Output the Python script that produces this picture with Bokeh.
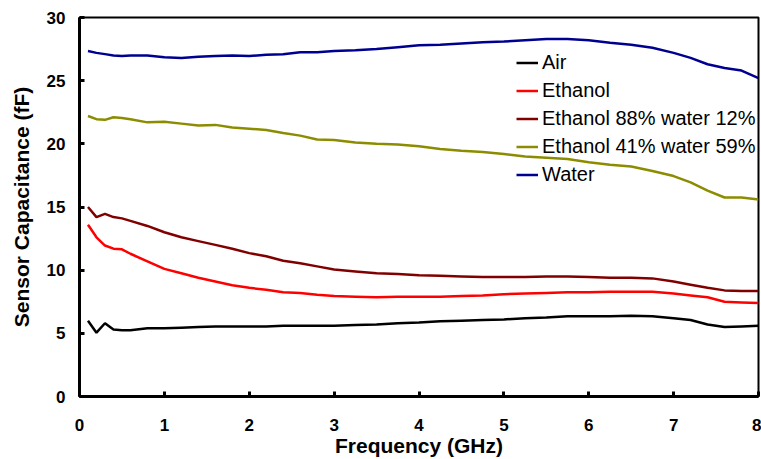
from bokeh.plotting import figure
from bokeh.models import Range1d, Legend, LegendItem, FixedTicker
from bokeh.embed import file_html
from bokeh.resources import INLINE

freq = [0.1, 0.2, 0.3, 0.4, 0.5, 0.6, 0.8, 1.0, 1.2, 1.4, 1.6, 1.8, 2.0, 2.2, 2.4, 2.6, 2.8, 3.0,
        3.25, 3.5, 3.75, 4.0, 4.25, 4.5, 4.75, 5.0, 5.25, 5.5, 5.75, 6.0, 6.25, 6.5, 6.75, 7.0,
        7.2, 7.4, 7.6, 7.8, 8.0]

air = [6.0, 5.05, 5.8, 5.3, 5.25, 5.25, 5.4, 5.4, 5.45, 5.5, 5.55, 5.55, 5.55, 5.55, 5.6, 5.6, 5.6, 5.6,
       5.65, 5.7, 5.8, 5.85, 5.95, 6.0, 6.05, 6.1, 6.2, 6.25, 6.35, 6.35, 6.35, 6.4, 6.35, 6.2,
       6.05, 5.7, 5.5, 5.55, 5.6]

ethanol = [13.6, 12.6, 11.95, 11.7, 11.65, 11.3, 10.7, 10.1, 9.75, 9.4, 9.1, 8.8, 8.6, 8.45, 8.25, 8.2, 8.05, 7.95,
           7.9, 7.85, 7.9, 7.9, 7.9, 7.95, 8.0, 8.1, 8.15, 8.2, 8.25, 8.25, 8.3, 8.3, 8.3, 8.15,
           8.0, 7.85, 7.5, 7.45, 7.4]

eth88 = [15.0, 14.2, 14.45, 14.2, 14.1, 13.9, 13.5, 13.0, 12.6, 12.3, 12.0, 11.7, 11.35, 11.1, 10.75, 10.55, 10.3, 10.05,
         9.9, 9.75, 9.7, 9.6, 9.55, 9.5, 9.45, 9.45, 9.45, 9.5, 9.5, 9.45, 9.4, 9.4, 9.35, 9.1,
         8.85, 8.6, 8.4, 8.35, 8.35]

eth41 = [22.2, 21.95, 21.9, 22.1, 22.05, 21.95, 21.7, 21.75, 21.6, 21.45, 21.5, 21.3, 21.2, 21.1, 20.85, 20.65, 20.35, 20.3,
         20.1, 20.0, 19.95, 19.8, 19.6, 19.45, 19.35, 19.2, 19.0, 18.9, 18.8, 18.55, 18.35, 18.2, 17.85, 17.45,
         16.95, 16.3, 15.75, 15.75, 15.6]

water = [27.35, 27.2, 27.1, 27.0, 26.95, 27.0, 27.0, 26.85, 26.8, 26.9, 26.95, 27.0, 26.95, 27.05, 27.1, 27.25, 27.25, 27.35,
         27.4, 27.5, 27.65, 27.8, 27.85, 27.95, 28.05, 28.1, 28.2, 28.3, 28.3, 28.2, 28.0, 27.85, 27.6, 27.2,
         26.8, 26.3, 26.0, 25.8, 25.2]

names = ["Air", "Ethanol", "Ethanol 88% water 12%", "Ethanol 41% water 59%", "Water"]
series = [air, ethanol, eth88, eth41, water]
colors = ["#000000", "#ff0000", "#800000", "#8c8c00", "#000090"]

x_ticks = [0, 1, 2, 3, 4, 5, 6, 7, 8]
y_ticks = [0, 5, 10, 15, 20, 25, 30]

p = figure(width=761, height=459, output_backend="svg", toolbar_location=None,
           x_range=Range1d(0, 8), y_range=Range1d(0, 30),
           min_border_left=79, min_border_right=3, min_border_top=17, min_border_bottom=61)

items = []
for name, ys, c in zip(names, series, colors):
    r = p.line(freq, ys, line_color=c, line_width=2.5)
    items.append(LegendItem(label=name, renderers=[r]))

p.xgrid.visible = False
p.ygrid.visible = False
p.outline_line_color = "black"
p.outline_line_width = 2
p.background_fill_color = "white"
p.border_fill_color = "white"

for ax in (p.xaxis[0], p.yaxis[0]):
    ax.axis_line_width = 3
    ax.axis_line_color = "black"
    ax.major_tick_in = 5
    ax.major_tick_out = 0
    ax.major_tick_line_width = 3
    ax.minor_tick_line_color = None
    ax.major_label_text_font = "Liberation Sans"
    ax.major_label_text_font_style = "bold"
    ax.major_label_text_font_size = "17px"
    ax.major_label_text_color = "black"
    ax.axis_label_text_font = "Liberation Sans"
    ax.axis_label_text_font_style = "bold"
    ax.axis_label_text_font_size = "21px"
    ax.axis_label_text_color = "black"

p.xaxis.ticker = FixedTicker(ticks=x_ticks)
p.yaxis.ticker = FixedTicker(ticks=y_ticks)
p.xaxis.axis_label = "Frequency (GHz)"
p.yaxis.axis_label = "Sensor Capacitance (fF)"
p.xaxis.major_label_standoff = 22
p.xaxis.axis_label_standoff = 0
p.yaxis.major_label_standoff = 14
p.yaxis.axis_label_standoff = 11

legend = Legend(items=items, location=(437, 210), border_line_color=None,
                background_fill_alpha=0, padding=0, margin=0, spacing=5,
                glyph_width=22, glyph_height=23, label_height=23, label_standoff=4,
                label_text_font="Liberation Sans", label_text_font_size="20px",
                label_text_color="black")
p.add_layout(legend)

open("out.html", "w").write(file_html(p, INLINE))
